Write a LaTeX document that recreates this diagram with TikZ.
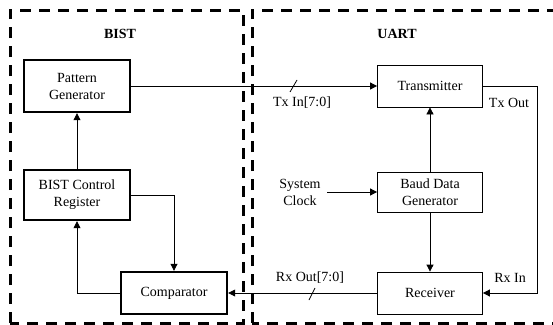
\documentclass[tikz,border=0pt]{standalone}
\usepackage{fontspec}
\setmainfont{Liberation Serif}
\usetikzlibrary{arrows.meta}
\begin{document}
\begin{tikzpicture}[x=1pt,y=-1pt,
  every node/.style={font=\fontsize{14}{17}\selectfont, align=center, inner sep=0pt},
  thickbox/.style={draw, line width=2.4pt, minimum width=106pt, minimum height=52pt},
  thinbox/.style={draw, line width=0.8pt, minimum width=105pt, minimum height=42pt},
  region/.style={draw, line width=3pt, dash pattern=on 11pt off 8pt},
  sig/.style={line width=0.8pt, -{Triangle[length=7pt,width=7pt]}},
  wire/.style={line width=0.8pt}]
\useasboundingbox (0,0) rectangle (553,324);

% block outlines
\draw[region] (10,323) -- (10,10) -- (243,10) -- (243,323) -- cycle;
\draw[region] (252,323) -- (252,10) -- (560,10) -- (560,323) -- cycle;
\node[font=\fontsize{14}{17}\selectfont\bfseries] (bisttitle) at (120,34) {BIST};
\node[font=\fontsize{14}{17}\selectfont\bfseries] (uarttitle) at (397,34) {UART};

% BIST side
\node[thickbox] (pg) at (77,86) {Pattern\\Generator};
\node[thickbox, minimum height=50pt] (bcr) at (77,195) {BIST Control\\Register};
\node[thickbox, minimum height=42pt] (cmp) at (174,293) {Comparator};

% UART side
\node[thinbox] (tx) at (430,86) {Transmitter};
\node[thinbox, minimum height=40pt] (baud) at (430,192) {Baud Data\\Generator};
\node[thinbox] (rx) at (430,293) {Receiver};
\node (clk) at (300,192) {System\\Clock};
\coordinate (clkend) at (327,192);

% connections
\draw[sig] (pg.east) -- (tx.west);
\draw[sig] (bcr.north) -- (pg.south);
\draw[sig] (bcr.east) -| (cmp.north);
\draw[sig] (cmp.west) -| (bcr.south);
\draw[sig] (baud.north) -- (tx.south);
\draw[sig] (baud.south) -- (rx.north);
\draw[sig] (clkend) -- (baud.west);
\coordinate (txturn) at (537,86);
\draw[sig] (tx.east) -- (txturn) |- (rx.east);
\draw[sig] (rx.west) -- (cmp.east);

% bus width marks
\coordinate (txs1) at (290,92);
\coordinate (txs2) at (297,80);
\draw[wire] (txs1) -- (txs2);
\coordinate (rxs1) at (309,300);
\coordinate (rxs2) at (315,288);
\draw[wire] (rxs1) -- (rxs2);

% signal labels
\node (txin) at (302,103) {Tx In[7:0]};
\node (txout) at (509,103) {Tx Out};
\node (rxin) at (510,278) {Rx In};
\node (rxout) at (310,278) {Rx Out[7:0]};
\end{tikzpicture}
\end{document}
